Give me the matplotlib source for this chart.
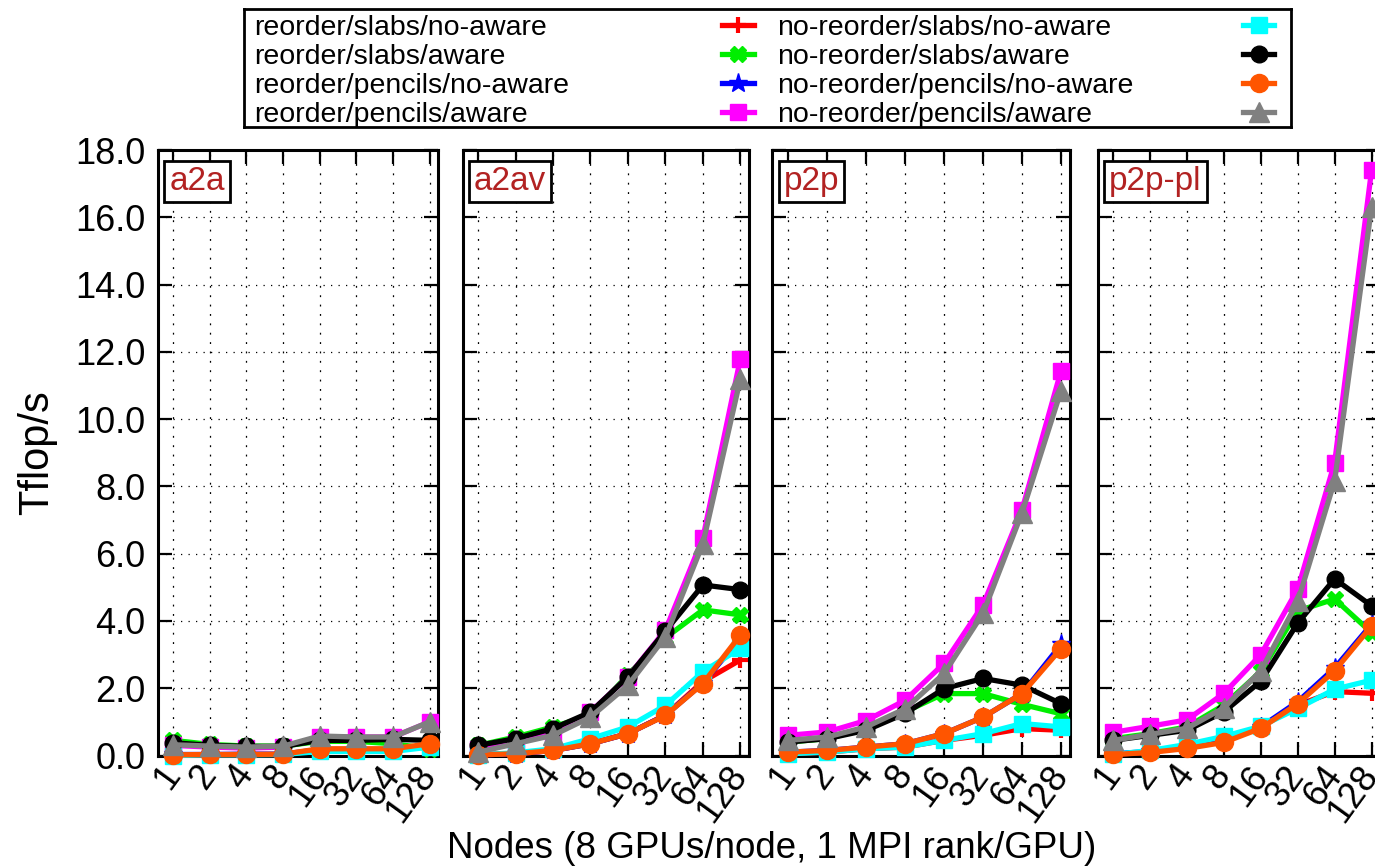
import matplotlib
matplotlib.use("Agg")
import matplotlib.pyplot as plt
from matplotlib.ticker import FixedLocator, FuncFormatter

plt.rcParams['font.family'] = ['Liberation Sans', 'DejaVu Sans']

nodes = [1, 2, 4, 8, 16, 32, 64, 128]
panels = ["a2a", "a2av", "p2p", "p2p-pl"]

labels = ["reorder/slabs/no-aware", "reorder/slabs/aware",
          "reorder/pencils/no-aware", "reorder/pencils/aware",
          "no-reorder/slabs/no-aware", "no-reorder/slabs/aware",
          "no-reorder/pencils/no-aware", "no-reorder/pencils/aware"]
colors = ["#ff0000", "#00ee00", "#0000ff", "#ff00ff",
          "#00ffff", "#000000", "#ff5500", "#808080"]
markers = ["+", "X", "*", "s", "s", "o", "o", "^"]
msizes = [11, 11, 14, 12, 12, 12, 13, 14]

# Tflop/s per panel, one list per series (same order as labels)
a2a = [
    [0.02, 0.02, 0.03, 0.03, 0.15, 0.15, 0.16, 0.30],
    [0.45, 0.33, 0.28, 0.28, 0.42, 0.42, 0.35, 0.20],
    [0.03, 0.03, 0.04, 0.04, 0.18, 0.18, 0.18, 0.32],
    [0.30, 0.25, 0.22, 0.25, 0.55, 0.55, 0.55, 1.00],
    [0.00, 0.02, 0.02, 0.03, 0.12, 0.12, 0.12, 0.25],
    [0.38, 0.30, 0.27, 0.27, 0.45, 0.45, 0.48, 0.45],
    [0.02, 0.03, 0.03, 0.04, 0.20, 0.20, 0.20, 0.35],
    [0.32, 0.28, 0.25, 0.28, 0.58, 0.55, 0.55, 1.00],
]
a2av = [
    [0.02, 0.05, 0.15, 0.35, 0.65, 1.20, 2.20, 2.84],
    [0.30, 0.55, 0.85, 1.20, 2.40, 3.50, 4.33, 4.18],
    [0.02, 0.05, 0.15, 0.35, 0.65, 1.20, 2.15, 3.50],
    [0.20, 0.40, 0.65, 1.29, 2.34, 3.73, 6.47, 11.80],
    [0.02, 0.08, 0.20, 0.50, 0.85, 1.49, 2.49, 3.19],
    [0.30, 0.50, 0.80, 1.29, 2.34, 3.70, 5.07, 4.93],
    [0.02, 0.05, 0.15, 0.35, 0.65, 1.19, 2.14, 3.58],
    [0.10, 0.35, 0.60, 1.14, 2.09, 3.53, 6.30, 11.20],
]
p2p = [
    [0.05, 0.10, 0.20, 0.25, 0.45, 0.60, 0.80, 0.75],
    [0.40, 0.50, 0.80, 1.30, 1.84, 1.84, 1.52, 1.24],
    [0.10, 0.15, 0.25, 0.35, 0.65, 1.14, 1.84, 3.30],
    [0.60, 0.70, 1.04, 1.64, 2.74, 4.48, 7.31, 11.44],
    [0.05, 0.10, 0.20, 0.25, 0.45, 0.65, 0.95, 0.85],
    [0.40, 0.50, 0.75, 1.25, 1.99, 2.29, 2.09, 1.54],
    [0.10, 0.15, 0.25, 0.35, 0.65, 1.14, 1.84, 3.18],
    [0.45, 0.55, 0.85, 1.39, 2.44, 4.23, 7.22, 10.85],
]
p2p_pl = [
    [0.03, 0.10, 0.25, 0.45, 0.85, 1.50, 1.90, 1.85],
    [0.50, 0.65, 0.85, 1.50, 2.50, 4.30, 4.65, 3.65],
    [0.05, 0.12, 0.25, 0.45, 0.85, 1.60, 2.60, 3.90],
    [0.69, 0.87, 1.06, 1.85, 3.00, 4.95, 8.71, 17.40],
    [0.03, 0.15, 0.33, 0.57, 0.87, 1.40, 1.97, 2.24],
    [0.45, 0.60, 0.75, 1.30, 2.21, 3.94, 5.25, 4.45],
    [0.03, 0.09, 0.21, 0.39, 0.81, 1.54, 2.52, 3.85],
    [0.45, 0.63, 0.81, 1.42, 2.52, 4.58, 8.17, 16.30],
]
data = [a2a, a2av, p2p, p2p_pl]

W, H = 1375, 868
fig = plt.figure(figsize=(W / 100, H / 100), dpi=100)

# panel edges in pixels (left, right); last one runs off the page like the original
edges = [(158, 438), (462.5, 749), (772, 1070), (1098, 1380)]
top_px, bot_px = 150, 755.5

axes = []
for i, (l, r) in enumerate(edges):
    ax = fig.add_axes([l / W, 1 - bot_px / H, (r - l) / W, (bot_px - top_px) / H])
    axes.append(ax)
    for k in range(len(labels)):
        ax.plot(nodes, data[i][k], color=colors[k], lw=3.8, marker=markers[k],
                ms=msizes[k], mew=3 if markers[k] == "+" else 1, mec=colors[k],
                clip_on=False, zorder=3 + k)
    ax.set_xscale('log', base=2)
    ax.set_xlim(0.75, 150)
    ax.set_ylim(0, 18)
    ax.xaxis.set_major_locator(FixedLocator(nodes))
    ax.xaxis.set_minor_locator(FixedLocator([]))
    ax.xaxis.set_major_formatter(FuncFormatter(lambda v, p: "%d" % v))
    ax.set_yticks(range(0, 19, 2))
    ax.yaxis.set_major_formatter(FuncFormatter(lambda v, p: "%.1f" % v))
    ax.tick_params(direction='in', top=True, right=True, length=10, width=1.6,
                   labelsize=26, pad=9)
    ax.tick_params(axis='x', pad=10)
    for lab in ax.get_xticklabels():
        lab.set_rotation(54)
        lab.set_rotation_mode('anchor')
        lab.set_ha('right')
        lab.set_va('center')
    if i > 0:
        ax.tick_params(labelleft=False)
    for s in ax.spines.values():
        s.set_linewidth(2.2)
    ax.grid(axis='x', color='black', lw=0.9, linestyle=(0, (1.5, 6)))
    ax.grid(axis='y', color='black', lw=0.9, linestyle=(0, (1, 5)))
    ax.set_axisbelow(True)
    ax.text(0.04, 0.974, panels[i], transform=ax.transAxes, ha='left', va='top',
            fontsize=24, color='#b22222', zorder=20,
            bbox=dict(boxstyle='square,pad=0.15', fc='white', ec='black', lw=2))

fig.text(37 / W, 1 - 453 / H, "Tflop/s", rotation=90, ha='center', va='center',
         fontsize=30)
fig.text(772 / W, 1 - 849 / H, "Nodes (8 GPUs/node, 1 MPI rank/GPU)",
         ha='center', va='center', fontsize=26.5)

# key box in gnuplot style: text first, sample after
kl, kr, kt, kb = 244, 1291, 9, 127
key = fig.add_axes([kl / W, 1 - kb / H, (kr - kl) / W, (kb - kt) / H])
key.set_xlim(0, 1)
key.set_ylim(0, 1)
key.set_xticks([])
key.set_yticks([])
for s in key.spines.values():
    s.set_linewidth(2)
text_x = [0.0096, 0.509]
samp_x = [(0.4565, 0.4871), (0.9542, 0.9838)]
for k in range(len(labels)):
    col, row = divmod(k, 4)
    y = 0.862 - 0.245 * row
    key.text(text_x[col], y, labels[k], ha='left', va='center_baseline', fontsize=20.5)
    x0, x1 = samp_x[col]
    key.plot([x0, (x0 + x1) / 2, x1], [y, y, y], color=colors[k], lw=3.8,
             marker=markers[k], markevery=[1], ms=msizes[k],
             mew=3 if markers[k] == "+" else 1, mec=colors[k], clip_on=False)

fig.savefig("out.png", dpi=100)
